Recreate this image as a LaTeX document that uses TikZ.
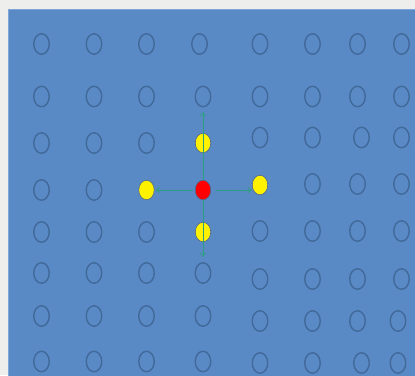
\documentclass[tikz,border=0pt]{standalone}
\usetikzlibrary{shapes.geometric,arrows.meta}
\definecolor{bgpaper}{HTML}{EEEEEC}
\definecolor{panel}{HTML}{5A8AC6}
\definecolor{paneledge}{HTML}{7FA6D6}
\definecolor{holeline}{HTML}{41699A}
\definecolor{arrowgreen}{HTML}{2E9E82}
\definecolor{dotedge}{HTML}{4D6688}
\tikzset{
  hole/.style={ellipse, draw=holeline, line width=1.4pt, minimum width=15.5pt, minimum height=20.5pt, inner sep=0pt},
  dot/.style={ellipse, draw=dotedge, line width=0.6pt, minimum width=15.5pt, minimum height=19.5pt, inner sep=0pt},
  arr/.style={draw=arrowgreen, line width=0.8pt, -{Straight Barb[length=3.5pt,width=5pt]}}
}
\begin{document}
\begin{tikzpicture}[x=1pt,y=-1pt]
\useasboundingbox (0,0) rectangle (415,375);
\fill[bgpaper] (0,0) rectangle (415,375);
\filldraw[fill=panel, draw=paneledge, line width=0.6pt] (8,9) rectangle (416,376);
% left block
\foreach \n/\x/\y in {
  a1/41.5/44, a2/94/44, a3/146.5/44, a4/199.5/44,
  b1/41.5/96.5, b2/94/96.5, b3/146.5/96.5, b4/203/96.5,
  c1/41.5/143, c2/94/143, c3/146.5/143,
  d1/41.5/190, d2/94/190,
  e1/41.5/232, e2/94/232, e3/146.5/232,
  f1/41.5/273, f2/94/273, f3/146.5/273, f4/203/273,
  g1/41.5/316, g2/94/316, g3/146.5/316, g4/203/316,
  h1/41.5/361.5, h2/94/361.5, h3/146.5/361.5, h4/203/361.5}
  \node[hole] (\n) at (\x,\y) {};
% right block
\foreach \n/\x/\y in {
  a5/260/44, a6/312.5/44, a7/357.5/44, a8/401.5/44,
  b5/260/96.5, b6/312.5/96.5, b7/357.5/96.5, b8/401.5/96.5,
  c5/260/137.5, c6/312.5/137.5, c7/361.5/137.5, c8/401.5/137.5,
  d6/312.5/184, d7/357.5/184, d8/401.5/184,
  e5/260/231, e6/312.5/231, e7/357.5/231, e8/401.5/231,
  f5/260/279, f6/312.5/279, f7/357.5/279, f8/401.5/279,
  g5/260/321, g6/312.5/321, g7/357.5/321, g8/398/321,
  h5/260/363, h6/312.5/363, h7/361.5/363, h8/398/363}
  \node[hole] (\n) at (\x,\y) {};
% coloured dots
\node[dot, fill=yellow] (yup) at (203,143) {};
\node[dot, fill=yellow] (ydown) at (203,232) {};
\node[dot, fill=yellow] (yleft) at (146.5,190) {};
\node[dot, fill=yellow] (yright) at (260,185) {};
\node[dot, fill=red] (red) at (203,190) {};
% arrow ends
\coordinate (uptip) at (203,112);
\coordinate (downtip) at (203,257);
\coordinate (lefttip) at (155.5,190);
\coordinate (righttip) at (252,190);
\draw[arr] (red.north) -- (uptip);
\draw[arr] (red.south) -- (downtip);
\draw[arr, shorten <=2pt] (red.west) -- (lefttip);
\draw[arr, shorten <=5pt] (red.east) -- (righttip);
\end{tikzpicture}
\end{document}
